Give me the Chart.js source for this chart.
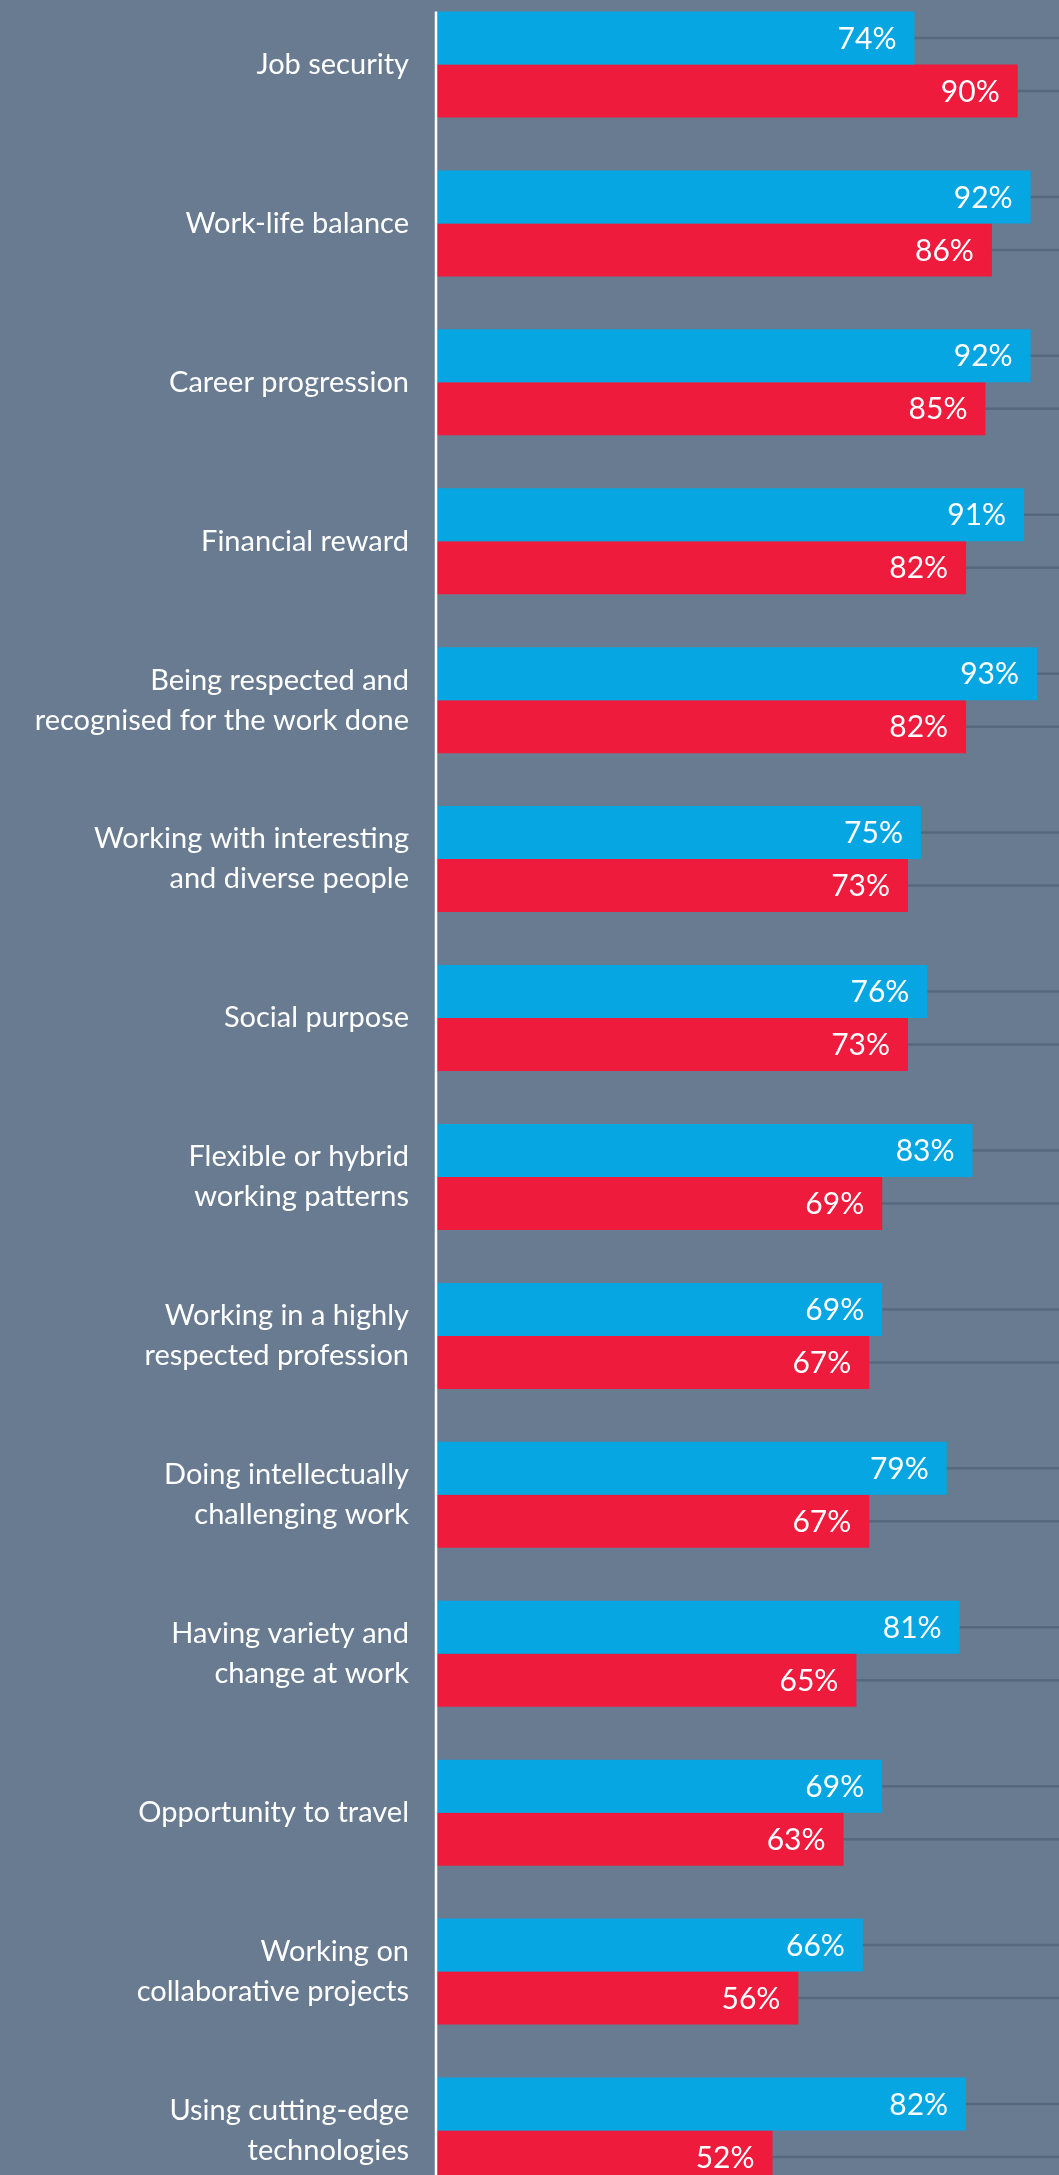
<!DOCTYPE html>
<html>
<head>
<meta charset="utf-8">
<script src="https://cdn.jsdelivr.net/npm/chart.js@4.4.1/dist/chart.umd.min.js"></script>
<style>
  html, body { margin: 0; padding: 0; background: #687b90; }
  #wrap { position: relative; width: 1059px; height: 2175px; overflow: hidden; }
  #chart { position: absolute; left: 0; top: -15px; }
</style>
</head>
<body>
<div id="wrap"><canvas id="chart" width="1059" height="2225"></canvas></div>
<script>
const categories = [
  "Job security",
  "Work-life balance",
  "Career progression",
  "Financial reward",
  ["Being respected and", "recognised for the work done"],
  ["Working with interesting", "and diverse people"],
  "Social purpose",
  ["Flexible or hybrid", "working patterns"],
  ["Working in a highly", "respected profession"],
  ["Doing intellectually", "challenging work"],
  ["Having variety and", "change at work"],
  "Opportunity to travel",
  ["Working on", "collaborative projects"],
  ["Using cutting-edge", "technologies"],
];
const blueValues = [74, 92, 92, 91, 93, 75, 76, 83, 69, 79, 81, 69, 66, 82];
const redValues = [90, 86, 85, 82, 82, 73, 73, 69, 67, 67, 65, 63, 56, 52];

const FONT = "Lato, 'Noto Sans', sans-serif";

// lines behind bars, white axis line, value labels
const guides = {
  id: "guides",
  beforeDatasetsDraw(chart) {
    const { ctx, chartArea } = chart;
    ctx.save();
    ctx.strokeStyle = "#56687d";
    ctx.lineWidth = 2.5;
    chart.data.datasets.forEach((ds, i) => {
      chart.getDatasetMeta(i).data.forEach((bar) => {
        ctx.beginPath();
        ctx.moveTo(chartArea.left, bar.y);
        ctx.lineTo(chartArea.right, bar.y);
        ctx.stroke();
      });
    });
    ctx.restore();
  },
  afterDatasetsDraw(chart) {
    const { ctx, chartArea } = chart;
    const first = chart.getDatasetMeta(0).data[0];
    ctx.save();
    ctx.strokeStyle = "#ffffff";
    ctx.lineWidth = 2.5;
    ctx.beginPath();
    ctx.moveTo(chartArea.left - 1, first.y - first.height / 2);
    ctx.lineTo(chartArea.left - 1, chart.height);
    ctx.stroke();

    ctx.fillStyle = "#ffffff";
    ctx.font = "30px " + FONT;
    ctx.textAlign = "right";
    ctx.textBaseline = "middle";
    chart.data.datasets.forEach((ds, i) => {
      chart.getDatasetMeta(i).data.forEach((bar, j) => {
        ctx.fillText(ds.data[j] + "%", bar.x - 18, bar.y + 1);
      });
    });
    ctx.restore();
  },
};

new Chart(document.getElementById("chart"), {
  type: "bar",
  data: {
    labels: categories,
    datasets: [
      { label: "Blue", data: blueValues, backgroundColor: "#05a6e2", categoryPercentage: 0.667, barPercentage: 1 },
      { label: "Red", data: redValues, backgroundColor: "#ee1b3c", categoryPercentage: 0.667, barPercentage: 1 },
    ],
  },
  options: {
    indexAxis: "y",
    responsive: false,
    animation: false,
    layout: { padding: 0 },
    plugins: { legend: { display: false }, tooltip: { enabled: false } },
    scales: {
      x: { display: false, min: 0, max: 96.4 },
      y: {
        grid: { display: false, drawTicks: false },
        border: { display: false },
        ticks: {
          color: "#ffffff",
          padding: 28,
          font: { family: FONT, size: 29, lineHeight: 40 / 29 },
        },
        afterFit(scale) {
          scale.width = 437;
          scale.paddingTop = 0;
          scale.paddingBottom = 0;
        },
      },
    },
  },
  plugins: [guides],
});
</script>
</body>
</html>
